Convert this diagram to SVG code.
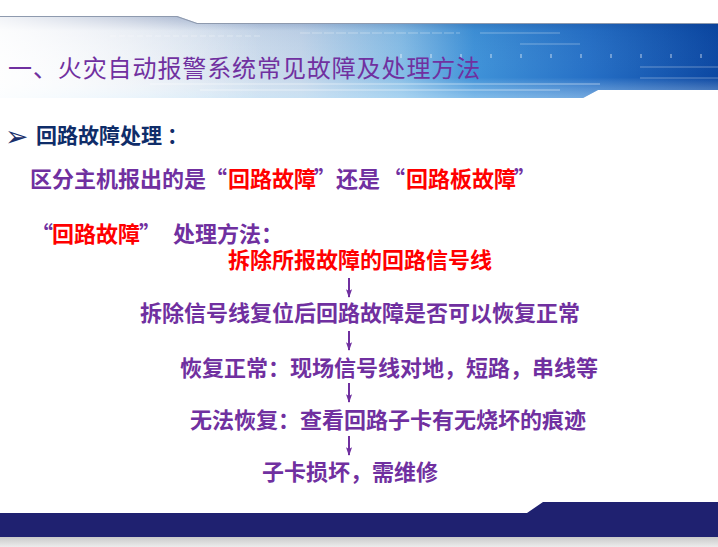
<svg xmlns="http://www.w3.org/2000/svg" width="718" height="547" viewBox="0 0 718 547">
<defs>
<linearGradient id="bandH" x1="0" y1="0" x2="718" y2="0" gradientUnits="userSpaceOnUse">
<stop offset="0" stop-color="#f6f8fb"/>
<stop offset="0.18" stop-color="#e6ecf4"/>
<stop offset="0.42" stop-color="#c3d6ea"/>
<stop offset="0.56" stop-color="#86bde6"/>
<stop offset="0.66" stop-color="#3f92d8"/>
<stop offset="0.82" stop-color="#2670c6"/>
<stop offset="1" stop-color="#0b47a2"/>
</linearGradient>
<linearGradient id="bandV" x1="0" y1="16" x2="0" y2="98" gradientUnits="userSpaceOnUse">
<stop offset="0" stop-color="#0a2a70" stop-opacity="0.35"/>
<stop offset="0.18" stop-color="#0a2a70" stop-opacity="0.05"/>
<stop offset="0.75" stop-color="#ffffff" stop-opacity="0"/>
<stop offset="1" stop-color="#cfeeff" stop-opacity="0.45"/>
</linearGradient>
<linearGradient id="fadeL" x1="0" y1="0" x2="260" y2="0" gradientUnits="userSpaceOnUse">
<stop offset="0" stop-color="#ffffff" stop-opacity="0.85"/>
<stop offset="1" stop-color="#ffffff" stop-opacity="0"/>
</linearGradient>
<linearGradient id="grayStrip" x1="0" y1="537" x2="0" y2="547" gradientUnits="userSpaceOnUse">
<stop offset="0" stop-color="#c9c9c9"/>
<stop offset="1" stop-color="#ececec"/>
</linearGradient>
<marker id="arr" viewBox="0 0 10 8" refX="9" refY="4" markerWidth="9" markerHeight="7" markerUnits="userSpaceOnUse" orient="auto">
<path d="M0,0.5 L10,4 L0,7.5 L2,4 Z" fill="#7030a0"/>
</marker>
<style>
.t{font-family:"Noto Sans CJK SC","Liberation Sans",sans-serif;font-weight:bold;font-size:22px}
.p{fill:#7030a0}
.r{fill:#ff0000}
.conn{stroke:#7030a0;stroke-width:2;fill:none;marker-end:url(#arr)}
.tex{stroke:#ffffff;stroke-opacity:0.35;stroke-width:1}
</style>
</defs>
<rect width="718" height="547" fill="#ffffff"/>
<g id="header">
<path d="M0,16 L177,16 L197,23 L718,23 L718,90 L598,90 L583,98 L0,98 Z" fill="url(#bandH)"/>
<path d="M0,16 L177,16 L197,23 L718,23 L718,90 L598,90 L583,98 L0,98 Z" fill="url(#bandV)"/>
<rect x="0" y="16" width="260" height="82" fill="url(#fadeL)"/>
<polyline points="0,16.5 177,16.5 197,23.5 718,23.5" fill="none" stroke="#8e9aae" stroke-width="1.2"/>
<g class="tex">
<line x1="110" y1="36" x2="260" y2="36" stroke-dasharray="6 3"/>
<line x1="300" y1="33" x2="460" y2="33" stroke-dasharray="10 2"/>
<line x1="480" y1="33" x2="560" y2="33"/>
<line x1="520" y1="44" x2="580" y2="44"/>
<line x1="640" y1="67" x2="718" y2="67"/>
<line x1="640" y1="78" x2="718" y2="78"/>
<line x1="150" y1="84" x2="600" y2="84" stroke-opacity="0.5"/>
<line x1="200" y1="90" x2="560" y2="90" stroke-opacity="0.5"/>
<line x1="400" y1="56" x2="718" y2="56" stroke-dasharray="2 28" stroke-width="4"/>
</g>
<text x="8" y="77" font-family="Noto Sans CJK SC,Liberation Sans,sans-serif" font-size="24" letter-spacing="0.9" fill="#7030a0">一、火灾自动报警系统常见故障及处理方法</text>
</g>
<g id="heading">
<text x="5" y="146" font-family="DejaVu Sans,sans-serif" font-size="28" fill="#1a2f6b">➢</text>
<text x="36" y="143" font-family="Noto Sans CJK SC,Liberation Sans,sans-serif" font-weight="bold" font-size="21" fill="#0f2d69">回路故障处理<tspan dx="5">：</tspan></text>
</g>
<g id="line-distinguish">
<text class="t p" y="187"><tspan x="30">区分主机报出的是</tspan><tspan x="205">“</tspan><tspan class="r" x="228">回路故障</tspan><tspan x="314">”</tspan><tspan x="336">还是</tspan><tspan x="383">“</tspan><tspan class="r" x="406">回路板故障</tspan><tspan x="514">”</tspan></text>
</g>
<g id="line-method">
<text class="t p" y="242"><tspan x="31">“</tspan><tspan class="r" x="52">回路故障</tspan><tspan x="139">”</tspan><tspan x="173">处理方法：</tspan></text>
</g>
<g id="step1"><text class="t r" x="228" y="268">拆除所报故障的回路信号线</text></g>
<g id="step2"><text class="t p" x="140" y="321">拆除信号线复位后回路故障是否可以恢复正常</text></g>
<g id="step3"><text class="t p" x="180" y="376">恢复正常：现场信号线对地，短路，串线等</text></g>
<g id="step4"><text class="t p" x="190" y="428">无法恢复：查看回路子卡有无烧坏的痕迹</text></g>
<g id="step5"><text class="t p" x="262" y="480">子卡损坏，需维修</text></g>
<g id="connectors">
<line class="conn" x1="349" y1="278" x2="349" y2="297"/>
<line class="conn" x1="349" y1="331" x2="349" y2="350"/>
<line class="conn" x1="349" y1="383" x2="349" y2="402"/>
<line class="conn" x1="349" y1="436" x2="349" y2="455"/>
</g>
<g id="footer">
<path d="M0,513 L527,513 L543,502 L718,502 L718,537 L0,537 Z" fill="#1f2170"/>
<rect x="0" y="537" width="718" height="10" fill="url(#grayStrip)"/>
</g>
</svg>
